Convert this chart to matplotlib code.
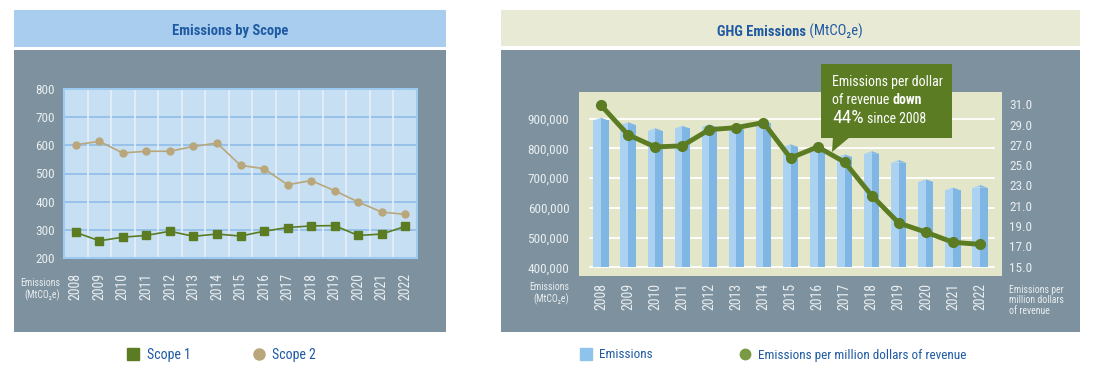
import numpy as np
import matplotlib.pyplot as plt
from matplotlib import font_manager as fm
from matplotlib.patches import Rectangle, Polygon
from matplotlib.lines import Line2D

# pick a narrow face if one is installed, else ask DejaVu for its condensed cut
installed = {f.name for f in fm.fontManager.ttflist}
narrow = [n for n in ['Roboto Condensed', 'Liberation Sans Narrow', 'Open Sans Condensed']
          if n in installed]
if narrow:
    plt.rcParams['font.family'] = [narrow[0], 'DejaVu Sans']
else:
    plt.rcParams['font.family'] = ['DejaVu Sans']
    plt.rcParams['font.stretch'] = 'condensed'

# ---- data ----
years = ['2008', '2009', '2010', '2011', '2012', '2013', '2014', '2015',
         '2016', '2017', '2018', '2019', '2020', '2021', '2022']
scope1 = [291, 261, 274, 280, 295, 277, 285, 278, 295, 308, 314, 315, 280, 285, 312]
scope2 = [602, 614, 573, 579, 579, 596, 608, 529, 517, 460, 475, 439, 399, 363, 355]
emissions = [903000, 888000, 868000, 876000, 881000, 874000, 893000, 814000,
             805000, 780000, 791000, 761000, 696000, 668000, 677000]
intensity = [30.9, 28.0, 26.8, 26.9, 28.5, 28.7, 29.2, 25.7, 26.8, 25.3,
             22.0, 19.3, 18.4, 17.4, 17.2]
left_ticks = [200, 300, 400, 500, 600, 700, 800]
em_ticks = [400000, 500000, 600000, 700000, 800000, 900000]
int_ticks = [15.0, 17.0, 19.0, 21.0, 23.0, 25.0, 27.0, 29.0, 31.0]

# ---- colours ----
GRAY = '#7d919e'
BLUE_HEAD = '#a9cdee'
BLUE_BG = '#c7dff3'
BLUE_GRID = '#8fbde8'
CREAM_HEAD = '#e9ead5'
CREAM_BG = '#e4e6c9'
GREEN = '#5b7c23'
TAN = '#b9a77b'
TITLE_BLUE = '#1f5aa3'
TICK = '#e9eef1'
BAR_L = '#acd2f2'
BAR_D = '#80b6e4'

W, H = 1094, 374
fig = plt.figure(figsize=(W / 100, H / 100), dpi=100)


def fx(x):
    return x / W


def fy(y):
    return 1 - y / H


def box(x0, y0, x1, y1, color, z=-5):
    fig.add_artist(Rectangle((fx(x0), fy(y1)), fx(x1 - x0), (y1 - y0) / H,
                             transform=fig.transFigure, color=color, lw=0, zorder=z))


def rich_text(x, y, parts, ha='left'):
    # parts: list of (string, kwargs); drawn one after another on a baseline
    rend = fig.canvas.get_renderer()
    texts, widths = [], []
    for s, kw in parts:
        t = fig.text(0, fy(y), s, va='baseline', ha='left', zorder=10, **kw)
        texts.append(t)
        widths.append(t.get_window_extent(rend).width)
    start = x - sum(widths) / 2 if ha == 'center' else x
    for t, w in zip(texts, widths):
        t.set_x(fx(start))
        start += w


# panels
box(14, 10, 446, 47, BLUE_HEAD)
box(14, 50, 446, 332, GRAY)
box(501, 10, 1080, 46, CREAM_HEAD)
box(501, 50, 1080, 332, GRAY)

x = np.arange(len(years))

# ================= left: emissions by scope =================
ax1 = fig.add_axes([fx(64), fy(258), fx(417 - 64), (258 - 89) / H])
ax1.set_facecolor(BLUE_BG)
for yv in left_ticks[1:-1]:
    ax1.axhline(yv, color=BLUE_GRID, lw=1.2, zorder=1)
for xv in x[:-1] + 0.5:
    ax1.axvline(xv, color='#e6f0fa', lw=1.2, zorder=1)
ax1.plot(x, scope2, color=TAN, lw=1.2, marker='o', ms=5, zorder=3)
ax1.plot(x, scope1, color=GREEN, lw=1.2, marker='s', ms=5.5, zorder=3)
ax1.set_xlim(-0.5, len(years) - 0.5)
ax1.set_ylim(200, 800)
ax1.set_yticks(left_ticks)
ax1.set_xticks(x)
ax1.set_xticklabels(years, rotation=90, va='top')
ax1.tick_params(axis='y', length=0, pad=6.5, labelsize=9.5, labelcolor=TICK)
ax1.tick_params(axis='x', length=0, pad=11, labelsize=10, labelcolor=TICK)
for sp in ax1.spines.values():
    sp.set_color('#9ccaf0')
    sp.set_linewidth(1.5)
fig.text(fx(60), fy(283), 'Emissions', ha='right', va='center', fontsize=7, color=TICK)
fig.text(fx(60), fy(295), '(MtCO\u2082e)', ha='right', va='center', fontsize=7, color=TICK)

rich_text(230, 35, [('Emissions by Scope', dict(fontsize=10.5, fontweight='bold', color=TITLE_BLUE))],
          ha='center')

h1 = [Line2D([], [], ls='none', marker='s', ms=8, color=GREEN),
      Line2D([], [], ls='none', marker='o', ms=8, color=TAN)]
fig.legend(h1, ['Scope 1', 'Scope 2'], loc='center', bbox_to_anchor=(fx(221), fy(355)),
           ncol=2, frameon=False, fontsize=10, labelcolor=TITLE_BLUE,
           handlelength=1, handletextpad=0.5, columnspacing=4.4)

# ================= right: GHG emissions =================
ax2 = fig.add_axes([fx(579), fy(276), fx(1002 - 579), (276 - 92) / H])
ax2.set_facecolor(CREAM_BG)
for yv in em_ticks:
    ax2.axhline(yv, xmin=0.026, xmax=0.98, color='white', lw=1.3, zorder=0.5)
bw = 0.28
cap = 9000  # height of the pointed bar top
base = em_ticks[0]
heights = np.array(emissions) - cap - base
ax2.bar(x - bw, heights, width=bw, bottom=base, align='edge', color=BAR_L, lw=0, zorder=2)
ax2.bar(x, heights, width=bw, bottom=base, align='edge', color=BAR_D, lw=0, zorder=2)
for xi, v in zip(x, emissions):
    ax2.fill([xi - bw, xi, xi], [v - cap, v, v - cap], color=BAR_L, lw=0, zorder=2)
    ax2.fill([xi, xi + bw, xi], [v, v - cap, v - cap], color=BAR_D, lw=0, zorder=2)
ax2.set_xlim(-0.81, len(years) - 0.19)
ax2.set_ylim(370700, 989800)
ax2.set_yticks(em_ticks)
ax2.set_yticklabels([f'{v:,}' for v in em_ticks])
ax2.set_xticks(x)
ax2.set_xticklabels(years, rotation=90, va='top')
ax2.tick_params(axis='y', length=0, pad=7, labelsize=9.5, labelcolor=TICK)
ax2.tick_params(axis='x', length=0, pad=5, labelsize=10, labelcolor=TICK)
for sp in ax2.spines.values():
    sp.set_visible(False)

ax2r = ax2.twinx()
ax2r.plot(x, intensity, color=GREEN, lw=3.5, marker='o', ms=7, zorder=4,
          solid_joinstyle='round')
ax2r.set_ylim(14.08, 32.21)
ax2r.set_yticks(int_ticks)
ax2r.set_yticklabels([f'{v:.1f}' for v in int_ticks])
ax2r.tick_params(axis='y', length=0, pad=5, labelsize=9.5, labelcolor=TICK)
for sp in ax2r.spines.values():
    sp.set_visible(False)

fig.text(fx(569), fy(287), 'Emissions', ha='right', va='center', fontsize=7, color=TICK)
fig.text(fx(569), fy(299), '(MtCO\u2082e)', ha='right', va='center', fontsize=7, color=TICK)
fig.text(fx(1009), fy(285), 'Emissions per\nmillion dollars\nof revenue', ha='left', va='top',
         fontsize=7, color=TICK, linespacing=1.05)

rich_text(790, 36, [('GHG Emissions', dict(fontsize=10.5, fontweight='bold', color=TITLE_BLUE)),
                    (' (MtCO\u2082e)', dict(fontsize=10.5, color=TITLE_BLUE))], ha='center')

# callout
box(821, 64, 952, 138, GREEN, z=8)
fig.add_artist(Polygon([(fx(833), fy(137)), (fx(850), fy(137)), (fx(832), fy(152))],
                       closed=True, transform=fig.transFigure, color=GREEN, lw=0, zorder=8))
white = dict(fontsize=10, color='white')
rich_text(832, 86, [('Emissions per dollar', white)])
rich_text(832, 104, [('of revenue ', white), ('down', dict(white, fontweight='bold'))])
rich_text(832, 123, [('44%', dict(fontsize=14, color='white')), (' since 2008', white)])

h2 = [Line2D([], [], ls='none', marker='s', ms=9, color='#8ec3ec'),
      Line2D([], [], ls='none', marker='o', ms=7.5, color='#7a9a45')]
fig.legend(h2, ['Emissions', 'Emissions per million dollars of revenue'], loc='center',
           bbox_to_anchor=(fx(773), fy(355)), ncol=2, frameon=False, fontsize=9.5,
           labelcolor=TITLE_BLUE, handlelength=1, handletextpad=0.5, columnspacing=6.5)

fig.savefig('out.png', dpi=100, facecolor='white')
